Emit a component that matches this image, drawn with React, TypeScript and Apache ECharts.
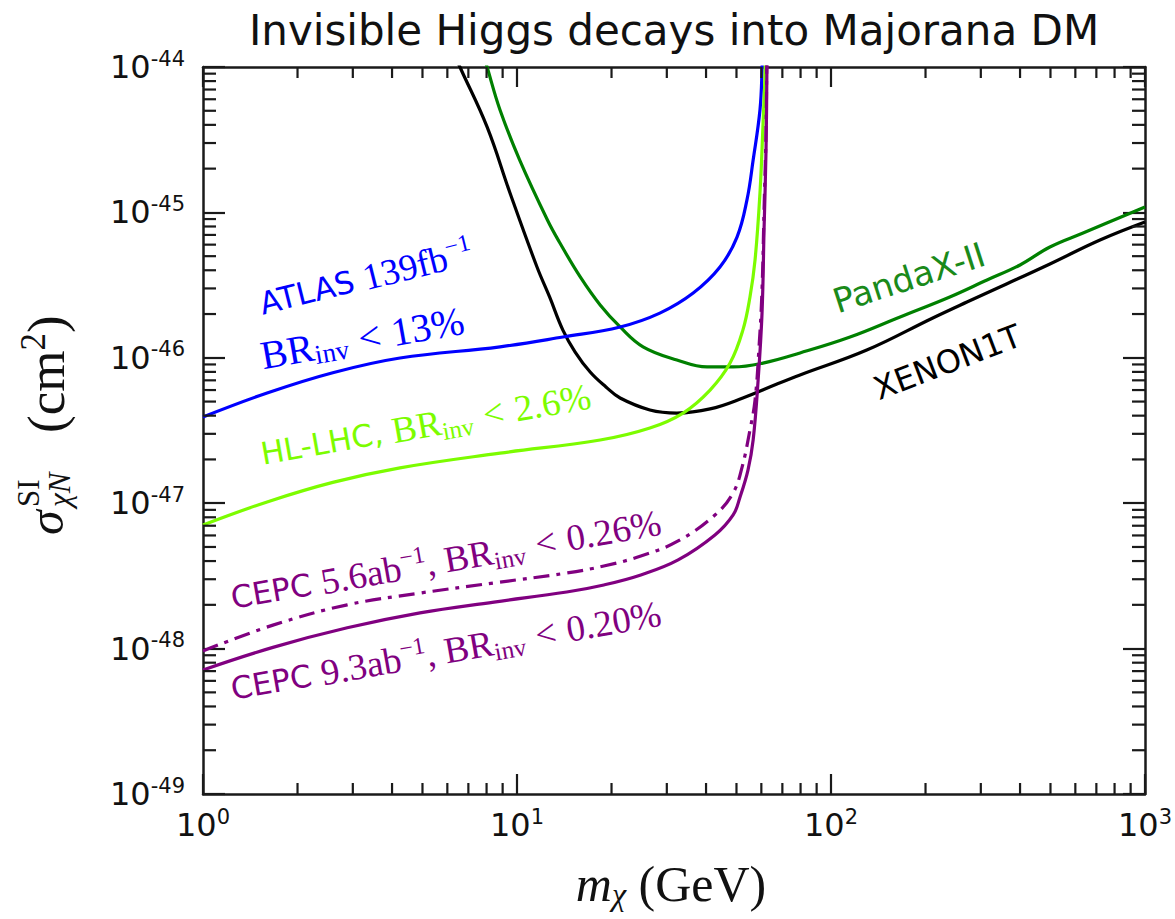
import React, { useEffect, useRef } from "react";
import * as echarts from "echarts";

const SANS = "'DejaVu Sans', 'Noto Sans', sans-serif";
const SERIF = "'Liberation Serif', 'DejaVu Serif', serif";
const AXIS_COLOR = "#1a1a1a";

// The y axis runs in units of 1e-49 cm^2 so the log scale stays in a well-conditioned range.
const SIGMA_UNIT = 1e-49;

// Plot range (log-log), x in GeV, y in SIGMA_UNIT
const X_MIN = 1;
const X_MAX = 1000;
const Y_MIN = 1;
const Y_MAX = 1e5;

// Tick labels: 10^exp
const X_TICK_EXP = ["0", "1", "2", "3"];
const Y_TICK_EXP = ["-49", "-48", "-47", "-46", "-45", "-44"];

// Decades that carry minor ticks at 2..9 x decade
const X_DECADES = [1, 10, 100];
const Y_DECADES = [1, 10, 100, 1000, 10000];
const MINOR_STEPS = [2, 3, 4, 5, 6, 7, 8, 9];

// [m_chi (GeV), sigma_SI (cm^2)]
const XENON1T = [
  [6.21, 1.33e-44], [6.58, 1.0e-44], [8.03, 3.87e-45], [9.5, 1.36e-45],
  [11.58, 4.21e-46], [12.7, 2.62e-46], [14.0, 1.55e-46], [15.3, 1.1e-46],
  [17.1, 7.98e-47], [19.2, 6.3e-47], [21.3, 5.29e-47],
  [26.5, 4.38e-47], [32.3, 4.17e-47], [41.2, 4.45e-47], [52.4, 5.29e-47],
  [67.3, 6.6e-47], [79.7, 7.62e-47], [130, 1.13e-46], [211, 1.88e-46],
  [271, 2.42e-46], [345, 3.07e-46], [498, 4.42e-46], [719, 6.46e-46],
  [1000, 8.59e-46],
];

const PANDAX_II = [
  [7.74, 1.31e-44], [8.03, 1.0e-44], [8.83, 5.06e-45], [10.2, 2.29e-45],
  [12.5, 8.87e-46], [13.7, 6.16e-46], [15.9, 3.6e-46], [18.4, 2.31e-46],
  [21.3, 1.63e-46], [25.2, 1.19e-46], [32.3, 9.66e-47], [40.3, 8.65e-47],
  [48.8, 8.65e-47], [60.7, 9.2e-47], [79.7, 1.08e-46], [115, 1.39e-46],
  [166, 1.91e-46], [239, 2.62e-46], [314, 3.43e-46], [400, 4.35e-46],
  [498, 5.78e-46], [635, 7.21e-46], [1000, 1.09e-45],
];

const ATLAS_139 = [
  [1, 3.92e-47], [1.6, 5.73e-47], [2.59, 7.9e-47], [4.24, 9.97e-47],
  [8.83, 1.19e-46], [14.0, 1.39e-46], [21.3, 1.63e-46], [28.5, 2.03e-46],
  [36.4, 2.79e-46], [44.3, 4.21e-46], [50.2, 6.77e-46], [54.0, 1.22e-45],
  [56.5, 2.29e-45], [59.4, 5.06e-45], [60.3, 9.5e-45], [61.0, 2.5e-44],
];

const HL_LHC = [
  [1, 7.08e-48], [1.6, 1.02e-47], [2.59, 1.39e-47], [4.24, 1.75e-47],
  [8.83, 2.21e-47], [18.4, 2.72e-47], [26.5, 3.29e-47], [33.8, 4.17e-47],
  [41.2, 6.0e-47], [47.7, 9.2e-47], [52.4, 1.55e-46], [55.2, 2.62e-46],
  [57.3, 4.71e-46], [59.4, 1.36e-45], [60.7, 3.87e-45], [61.7, 9.5e-45],
  [62.2, 2.5e-44],
];

const CEPC_5P6 = [
  [1, 9.63e-49], [1.67, 1.45e-48], [2.88, 2.0e-48], [4.91, 2.41e-48],
  [8.45, 2.83e-48], [14.4, 3.31e-48], [18.9, 3.7e-48], [24.8, 4.33e-48],
  [32.6, 5.5e-48], [42.7, 8.3e-48], [48.8, 1.18e-47], [52.1, 1.77e-47],
  [55.2, 3.19e-47], [57.3, 5.13e-47], [59.0, 1.19e-46], [60.3, 2.92e-46],
  [61.2, 1.04e-45], [62.1, 3.69e-45], [62.5, 1.5e-44],
];

const CEPC_9P3 = [
  [1, 7.13e-49], [1.67, 1.02e-48], [2.88, 1.39e-48], [4.91, 1.76e-48],
  [8.45, 2.09e-48], [14.4, 2.45e-48], [18.9, 2.74e-48], [24.8, 3.21e-48],
  [32.6, 4.07e-48], [42.7, 6.04e-48], [48.8, 8.3e-48], [51.3, 1.1e-47],
  [54.4, 1.69e-47], [56.5, 2.72e-47], [58.6, 7.03e-47], [60.3, 2.03e-46],
  [61.2, 7.57e-46], [62.1, 2.69e-45], [62.5, 9.5e-45], [62.8, 3e-44],
];

const BLUE = "#0000ff";
const LIME = "#7cfc00";
const GREEN = "#008000";
const PURPLE = "#800080";
const BLACK = "#000000";

const deg = (d: number) => (d * Math.PI) / 180;
const toPlot = (rows: number[][]) => rows.map(([m, s]) => [m, s / SIGMA_UNIT]);

function curve(name: string, rows: number[][], color: string, dash?: number[]) {
  return {
    name,
    type: "line",
    data: toPlot(rows),
    showSymbol: false,
    smooth: 0.4,
    clip: true,
    lineStyle: { color, width: 3.2, type: dash ?? "solid", cap: "butt", join: "round" },
    z: 3,
  };
}

function minorTickItem(params: any, api: any) {
  const kind = api.value(2);
  const p = api.coord([api.value(0), api.value(1)]);
  const lo = api.coord([X_MIN, Y_MIN]);
  const hi = api.coord([X_MAX, Y_MAX]);
  const style = { stroke: AXIS_COLOR, lineWidth: 2.2 };
  if (kind === 0) {
    const x = p[0];
    return {
      type: "group",
      children: [
        { type: "line", shape: { x1: x, y1: lo[1], x2: x, y2: lo[1] - 11 }, style },
        { type: "line", shape: { x1: x, y1: hi[1], x2: x, y2: hi[1] + 11 }, style },
      ],
    };
  }
  const y = p[1];
  return {
    type: "group",
    children: [
      { type: "line", shape: { x1: lo[0], y1: y, x2: lo[0] + 13, y2: y }, style },
      { type: "line", shape: { x1: hi[0], y1: y, x2: hi[0] - 13, y2: y }, style },
    ],
  };
}

const labelRich = (color: string, sans: number, serif: number) => ({
  a: { fontFamily: SANS, fontSize: sans, fill: color, lineHeight: 44 },
  r: { fontFamily: SERIF, fontSize: serif, fill: color, lineHeight: 44 },
  lt: { fontFamily: SERIF, fontSize: serif, fill: color, lineHeight: 44, padding: [0, 11, 0, 11] },
  sub: { fontFamily: SERIF, fontSize: Math.round(serif * 0.68), fill: color, lineHeight: 25, verticalAlign: "bottom" },
  sup: { fontFamily: SERIF, fontSize: Math.round(serif * 0.65), fill: color, lineHeight: 24, verticalAlign: "top" },
});

function tag(text: string, x: number, y: number, angle: number, color: string, sans = 31, serif = 37) {
  return {
    type: "text",
    x,
    y,
    rotation: deg(angle),
    z: 10,
    style: {
      text,
      fill: color,
      font: `${sans}px ${SANS}`,
      align: "left",
      verticalAlign: "middle",
      textAlign: "left",
      textVerticalAlign: "middle",
      rich: labelRich(color, sans, serif),
    },
  };
}

function buildOption() {
  const minorData = [
    ...X_DECADES.flatMap((d) => MINOR_STEPS.map((s) => [d * s, Y_MIN, 0])),
    ...Y_DECADES.flatMap((d) => MINOR_STEPS.map((s) => [X_MIN, d * s, 1])),
  ];

  const axisLineStyle = { color: AXIS_COLOR, width: 2.5 };
  const tickLabelRich = {
    b: { fontFamily: SANS, fontSize: 32, color: "#111", lineHeight: 38 },
    s: { fontFamily: SANS, fontSize: 21, color: "#111", lineHeight: 21, verticalAlign: "top" },
  };

  const xLabel = (v: number) => `{b|10}{s|${X_TICK_EXP[Math.round(Math.log10(v))]}}`;
  const yLabel = (v: number) => `{b|10}{s|${Y_TICK_EXP[Math.round(Math.log10(v))]}}`;

  const majorTick = (len: number) => ({
    show: true,
    inside: true,
    length: len,
    lineStyle: { color: AXIS_COLOR, width: 2.2 },
  });

  return {
    animation: false,
    backgroundColor: "#ffffff",
    grid: { left: 203, top: 67, right: 30, bottom: 125, containLabel: false, outerBoundsMode: "none" },
    xAxis: [
      {
        type: "log",
        logBase: 10,
        min: X_MIN,
        max: X_MAX,
        position: "bottom",
        axisLine: { show: true, onZero: false, lineStyle: axisLineStyle },
        axisTick: majorTick(20),
        axisLabel: { formatter: xLabel, rich: tickLabelRich, margin: 12 },
        splitLine: { show: false },
      },
      {
        type: "log",
        logBase: 10,
        min: X_MIN,
        max: X_MAX,
        position: "top",
        axisLine: { show: true, onZero: false, lineStyle: axisLineStyle },
        axisTick: majorTick(20),
        axisLabel: { show: false },
        splitLine: { show: false },
      },
    ],
    yAxis: [
      {
        type: "log",
        logBase: 10,
        min: Y_MIN,
        max: Y_MAX,
        position: "left",
        axisLine: { show: true, onZero: false, lineStyle: axisLineStyle },
        axisTick: majorTick(22),
        axisLabel: { formatter: yLabel, rich: tickLabelRich, margin: 18 },
        splitLine: { show: false },
      },
      {
        type: "log",
        logBase: 10,
        min: Y_MIN,
        max: Y_MAX,
        position: "right",
        axisLine: { show: true, onZero: false, lineStyle: axisLineStyle },
        axisTick: majorTick(22),
        axisLabel: { show: false },
        splitLine: { show: false },
      },
    ],
    series: [
      curve("XENON1T", XENON1T, BLACK),
      curve("PandaX-II", PANDAX_II, GREEN),
      curve("ATLAS 139fb-1", ATLAS_139, BLUE),
      curve("HL-LHC", HL_LHC, LIME),
      curve("CEPC 5.6ab-1", CEPC_5P6, PURPLE, [16, 7, 4, 7]),
      curve("CEPC 9.3ab-1", CEPC_9P3, PURPLE),
      {
        name: "minor ticks",
        type: "custom",
        xAxisIndex: 0,
        yAxisIndex: 0,
        dimensions: ["x", "y", "kind"],
        encode: { x: 0, y: 1 },
        data: minorData,
        renderItem: minorTickItem,
        silent: true,
        z: 5,
      },
    ],
    graphic: [
      {
        type: "text",
        x: 674,
        y: 30,
        style: {
          text: "Invisible Higgs decays into Majorana DM",
          font: `42px ${SANS}`,
          fill: "#111",
          align: "center",
          verticalAlign: "middle",
          textAlign: "center",
          textVerticalAlign: "middle",
        },
      },
      // x axis name
      {
        type: "text",
        x: 671,
        y: 884,
        style: {
          text: "{i|m}{sub|χ}{t| (GeV)}",
          fill: "#111",
          align: "center",
          verticalAlign: "middle",
          textAlign: "center",
          textVerticalAlign: "middle",
          rich: {
            i: { fontFamily: SERIF, fontStyle: "italic", fontSize: 50, fill: "#111", lineHeight: 52 },
            sub: { fontFamily: SERIF, fontStyle: "italic", fontSize: 32, fill: "#111", lineHeight: 30, verticalAlign: "bottom" },
            t: { fontFamily: SERIF, fontSize: 50, fill: "#111", lineHeight: 52 },
          },
        },
      },
      // y axis name, rotated to read bottom-to-top
      {
        type: "group",
        x: 46,
        y: 535,
        rotation: Math.PI / 2,
        children: [
          {
            type: "text",
            x: 0,
            y: 0,
            style: { text: "σ", font: `italic 50px ${SERIF}`, fill: "#111", align: "left", verticalAlign: "middle" },
          },
          {
            type: "text",
            x: 28,
            y: -18,
            style: { text: "SI", font: `31px ${SERIF}`, fill: "#111", align: "left", verticalAlign: "middle" },
          },
          {
            type: "text",
            x: 28,
            y: 13,
            style: { text: "χN", font: `italic 31px ${SERIF}`, fill: "#111", align: "left", verticalAlign: "middle" },
          },
          {
            type: "text",
            x: 102,
            y: 0,
            style: {
              text: "{t|(cm}{s|2}{t|)}",
              fill: "#111",
              align: "left",
              verticalAlign: "middle",
              rich: {
                t: { fontFamily: SERIF, fontSize: 53, fill: "#111", lineHeight: 60 },
                s: { fontFamily: SERIF, fontSize: 35, fill: "#111", lineHeight: 34, verticalAlign: "top" },
              },
            },
          },
        ],
      },
      // curve annotations
      tag("{a|ATLAS} {r|139fb}{sup|−1}", 260, 304, 14, BLUE),
      tag("{r|BR}{sub|inv}{lt|<}{r|13%}", 261, 356, 10, BLUE, 31, 40),
      tag("{a|HL-LHC,} {r|BR}{sub|inv}{lt|<}{r|2.6%}", 261, 454, 10, LIME),
      tag("{a|CEPC} {r|5.6ab}{sup|−1}{r|, BR}{sub|inv}{lt|<}{r|0.26%}", 231, 598, 10, PURPLE),
      tag("{a|CEPC} {r|9.3ab}{sup|−1}{r|, BR}{sub|inv}{lt|<}{r|0.20%}", 231, 689, 10, PURPLE),
      tag("{a|PandaX-II}", 834, 302, 18, "#1a8a1a", 34),
      tag("{a|XENON1T}", 875, 390, 21, BLACK, 32),
    ],
  };
}

export default function App() {
  const ref = useRef<HTMLDivElement>(null);
  useEffect(() => {
    document.body.style.margin = "0";
    const chart = echarts.init(ref.current as HTMLDivElement, null, { renderer: "svg" });
    chart.setOption(buildOption() as any);
    return () => chart.dispose();
  }, []);
  return <div ref={ref} style={{ width: 1175, height: 919, background: "#ffffff" }} />;
}
